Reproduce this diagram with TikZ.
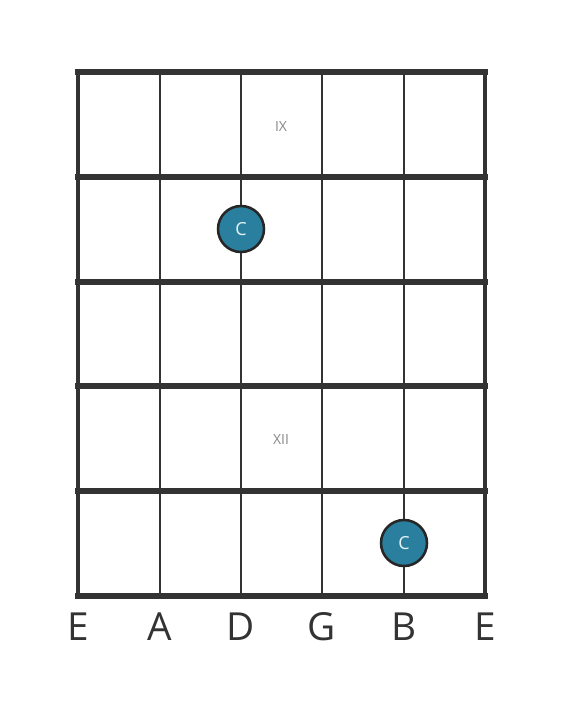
\documentclass[tikz,border=0pt]{standalone}
\usepackage{fontspec}
\setmainfont{Open Sans}
\definecolor{gridc}{HTML}{333333}
\definecolor{notec}{HTML}{2A7F9E}
\definecolor{notetxt}{HTML}{E6F4F6}
\definecolor{labelc}{HTML}{888888}
\begin{document}
\begin{tikzpicture}[x=0.75pt,y=-0.75pt,
  fretline/.style={draw=gridc,line width=3.8pt,line cap=rect},
  stringline/.style={draw=gridc,line width=2.2pt},
  note/.style={circle,draw=black!85,line width=1.9pt,fill=notec,minimum size=34.5pt,inner sep=0pt,text=notetxt,font=\fontsize{13.5pt}{14pt}\selectfont},
  strlabel/.style={text=gridc,font=\fontsize{29pt}{30pt}\selectfont,inner sep=0pt},
  fretlabel/.style={text=labelc,font=\fontsize{10.5pt}{11pt}\selectfont,inner sep=0pt}]
\useasboundingbox (0,0) rectangle (566,711);
\foreach \x/\n in {78/s1,160/s2,241/s3,322/s4,404/s5,485/s6}{
  \coordinate (\n t) at (\x,72);
  \coordinate (\n b) at (\x,596);
  \draw[stringline] (\n t) -- (\n b);
}
\foreach \y/\n in {72/f0,177/f1,282/f2,386/f3,491/f4,596/f5}{
  \coordinate (\n l) at (78,\y);
  \coordinate (\n r) at (485,\y);
  \draw[fretline] (\n l) -- (\n r);
}
\draw[draw=gridc,line width=3pt] (s1t) -- (s1b);
\draw[draw=gridc,line width=3pt] (s6t) -- (s6b);
\node[fretlabel] (ix) at (281,126) {IX};
\node[fretlabel] (xii) at (281,439) {XII};
\node[note] (n1) at (241,229) {C};
\node[note] (n2) at (404,543) {C};
\foreach \x/\l/\n in {78/E/l1,160/A/l2,241/D/l3,322/G/l4,404/B/l5,485/E/l6}{
  \node[strlabel] (\n) at (\x,627) {\l};
}
\end{tikzpicture}
\end{document}
